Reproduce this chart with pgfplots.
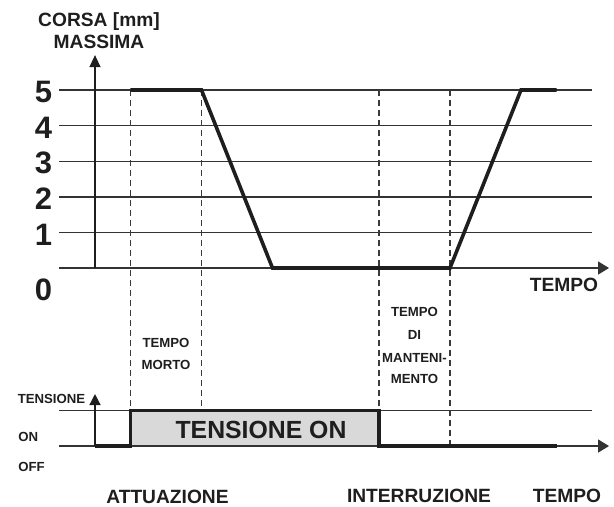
\documentclass[border=0pt]{standalone}
\usepackage{pgfplots}
\pgfplotsset{compat=1.18}
\usetikzlibrary{arrows.meta}
\usepackage{fontspec}
\setmainfont{Liberation Sans}
\definecolor{ink}{HTML}{1E1E1E}
\definecolor{gridc}{HTML}{333333}
\definecolor{dashc}{HTML}{3A3A3A}
\definecolor{fillc}{HTML}{D9D9D9}
\begin{document}
\begin{tikzpicture}[
  big/.style={font=\fontsize{9.6}{10}\selectfont\bfseries, text=ink, inner sep=0pt},
  small/.style={font=\fontsize{6.6}{7}\selectfont\bfseries, text=ink, inner sep=0pt},
]
\begin{axis}[
  scale only axis, width=307pt, height=253pt,
  xmin=-2.676, xmax=14.620, ymin=-6.685, ymax=7.528,
  axis line style={draw=none}, tick style={draw=none}, major tick length=0pt,
  xtick=\empty, ytick={1,2,3,4,5},
  /pgf/number format/assume math mode=true,
  yticklabel style={anchor=center, xshift=21.75pt, yshift=-1pt, text=ink,
    font=\fontsize{15.5}{16}\selectfont\bfseries},
  extra y ticks={0},
  extra y tick style={yticklabel style={yshift=-10pt}},
  clip=false,
]
% shaded voltage-on area
\addplot[fill=fillc, draw=none] coordinates {(1,-5) (8,-5) (8,-4) (1,-4)} \closedcycle;
% grid lines of the stroke chart
\addplot[gridc, line width=0.7pt] coordinates {(-1.014,1) (14,1)};
\addplot[gridc, line width=0.7pt] coordinates {(-1.014,2) (14,2)};
\addplot[gridc, line width=0.7pt] coordinates {(-1.014,3) (14,3)};
\addplot[gridc, line width=0.7pt] coordinates {(-1.014,4) (14,4)};
\addplot[gridc, line width=0.7pt] coordinates {(-1.014,5) (14,5)};
\addplot[gridc, line width=0.7pt, -{Triangle[length=5.5pt,width=6.5pt]}] coordinates {(-1.014,0) (14.48,0)};
\addplot[ink, line width=0.7pt, -{Triangle[length=6pt,width=5.5pt]}] coordinates {(0,0) (0,5.98)};
% on/off lines
\addplot[gridc, line width=0.7pt] coordinates {(-1.014,-4) (14,-4)};
\addplot[gridc, line width=0.7pt, -{Triangle[length=5.5pt,width=6.5pt]}] coordinates {(-1.014,-5) (14.48,-5)};
\addplot[ink, line width=0.7pt, -{Triangle[length=5.5pt,width=5.5pt]}] coordinates {(0,-5) (0,-3.54)};
% dashed time markers
\addplot[dashc, line width=0.6pt, dash pattern=on 3pt off 2pt] coordinates {(1,5) (1,-4)};
\addplot[dashc, line width=0.6pt, dash pattern=on 3pt off 2pt] coordinates {(3,5) (3,-4)};
\addplot[dashc, line width=0.6pt, dash pattern=on 3pt off 2pt] coordinates {(8,5) (8,-4)};
\addplot[dashc, line width=0.6pt, dash pattern=on 3pt off 2pt] coordinates {(10,5) (10,-5)};
% stroke curve
\addplot[ink, line width=1.8pt, line join=miter] coordinates {(1,5) (3,5) (5,0) (10,0) (12,5) (13,5)};
% voltage signal
\addplot[ink, line width=1.8pt, line join=miter] coordinates {(0,-5) (1,-5) (1,-4) (8,-4) (8,-5) (13,-5)};
% texts
\node[big, anchor=base] at (axis cs:0.113,6.784) {CORSA [mm]};
\node[big, anchor=base] at (axis cs:0.113,6.166) {MASSIMA};
\node[big, anchor=base] at (axis cs:13.21,-0.666) {TEMPO};
\node[small] at (axis cs:2.0,-2.107) {TEMPO};
\node[small] at (axis cs:2.0,-2.725) {MORTO};
\node[small] at (axis cs:9.0,-1.236) {TEMPO};
\node[small] at (axis cs:9.0,-1.882) {DI};
\node[small] at (axis cs:9.0,-2.528) {MANTENI-};
\node[small] at (axis cs:9.0,-3.118) {MENTO};
\node[small] at (axis cs:-1.225,-3.680) {TENSIONE};
\node[small, anchor=west] at (axis cs:-2.169,-4.739) {ON};
\node[small, anchor=west] at (axis cs:-2.169,-5.581) {OFF};
\node[font=\fontsize{12.4}{13}\selectfont\bfseries, text=ink, inner sep=0pt] at (axis cs:4.676,-4.537) {TENSIONE ON};
\node[big, anchor=base] at (axis cs:2.042,-6.601) {ATTUAZIONE};
\node[big, anchor=base] at (axis cs:9.127,-6.581) {INTERRUZIONE};
\node[big, anchor=base] at (axis cs:13.296,-6.590) {TEMPO};
\end{axis}
\end{tikzpicture}
\end{document}
